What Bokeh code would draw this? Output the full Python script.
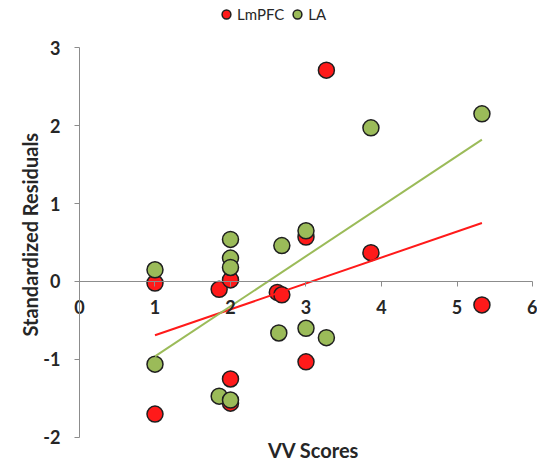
import math
from bokeh.plotting import figure
from bokeh.models import Range1d, Legend, LegendItem, Label, FixedTicker
from bokeh.embed import file_html
from bokeh.resources import INLINE

# Data
lmpfc_x = [1.0, 1.0, 1.85, 2.0, 2.0, 2.0, 2.62, 2.68, 3.0, 3.0, 3.27, 3.86, 5.33]
lmpfc_y = [-0.02, -1.70, -0.10, 0.02, -1.25, -1.56, -0.14, -0.17, 0.57, -1.03, 2.71, 0.37, -0.30]
la_x = [1.0, 1.0, 2.0, 2.0, 2.0, 1.85, 2.0, 2.68, 2.64, 3.0, 3.0, 3.27, 3.86, 5.33]
la_y = [0.15, -1.06, 0.54, 0.30, 0.18, -1.47, -1.52, 0.46, -0.66, 0.65, -0.60, -0.72, 1.97, 2.15]
trend_x = [1.0, 5.33]
lmpfc_trend = [-0.69, 0.75]
la_trend = [-0.96, 1.82]
x_ticks = [0, 1, 2, 3, 4, 5, 6]
y_ticks = [-2, -1, 0, 1, 2, 3]
y_tick_labels = ["-2", "-1", "0", "1", "2", "3"]

RED = "#ff1a1a"
GREEN = "#9bbb59"
OUTLINE = "#1f1f1f"
TEXT = "#262626"
FONT = "Lato"

# frame covers the whole canvas; axes drawn at fixed locations with bounds
p = figure(width=537, height=467, output_backend="svg", toolbar_location=None,
           x_range=Range1d(-1.046, 6.066), y_range=Range1d(-2.385, 3.603),
           min_border_left=0, min_border_right=0, min_border_top=0, min_border_bottom=0)
p.outline_line_color = None
p.xgrid.visible = False
p.ygrid.visible = False
p.background_fill_color = "white"

r_red = p.scatter(lmpfc_x, lmpfc_y, size=16, fill_color=RED, line_color=OUTLINE, line_width=1.5)
r_green = p.scatter(la_x, la_y, size=16, fill_color=GREEN, line_color=OUTLINE, line_width=1.5)
p.line(trend_x, lmpfc_trend, line_color=RED, line_width=2)
p.line(trend_x, la_trend, line_color=GREEN, line_width=2)

# axes
p.xaxis.fixed_location = 0
p.yaxis.fixed_location = 0
p.xaxis.bounds = (0, 6)
p.yaxis.bounds = (-2, 3)
p.xaxis.ticker = FixedTicker(ticks=x_ticks)
p.yaxis.ticker = FixedTicker(ticks=y_ticks)
p.yaxis.major_label_overrides = {t: s for t, s in zip(y_ticks, y_tick_labels)}
for ax in (p.xaxis[0], p.yaxis[0]):
    ax.axis_line_color = "#8c8c8c"
    ax.major_tick_line_color = "#8c8c8c"
    ax.minor_tick_line_color = None
    ax.major_tick_in = 0
    ax.major_tick_out = 5
    ax.major_label_text_font = FONT
    ax.major_label_text_font_style = "bold"
    ax.major_label_text_font_size = "18px"
    ax.major_label_text_color = TEXT
p.xaxis.major_label_standoff = 14
p.yaxis.major_label_standoff = 14

p.add_layout(Label(x=0, y=0.6, x_offset=-49, text="Standardized Residuals", angle=math.pi / 2,
                   text_align="center", text_baseline="middle", text_font=FONT,
                   text_font_style="bold", text_font_size="20px", text_color=TEXT))
p.add_layout(Label(x=3.1, y=-2, y_offset=-13, text="VV Scores", text_align="center",
                   text_baseline="middle", text_font=FONT, text_font_style="bold",
                   text_font_size="20px", text_color=TEXT))

legend = Legend(items=[LegendItem(label="LmPFC", renderers=[r_red]),
                       LegendItem(label="LA", renderers=[r_green])],
                orientation="horizontal", location=(215, 442),
                label_text_font=FONT, label_text_font_size="15px", label_text_color=TEXT,
                glyph_width=22, glyph_height=22, label_standoff=0, spacing=2,
                padding=0, margin=0, border_line_color=None, background_fill_alpha=0)
p.add_layout(legend, "center")

open("out.html", "w").write(file_html(p, INLINE))
